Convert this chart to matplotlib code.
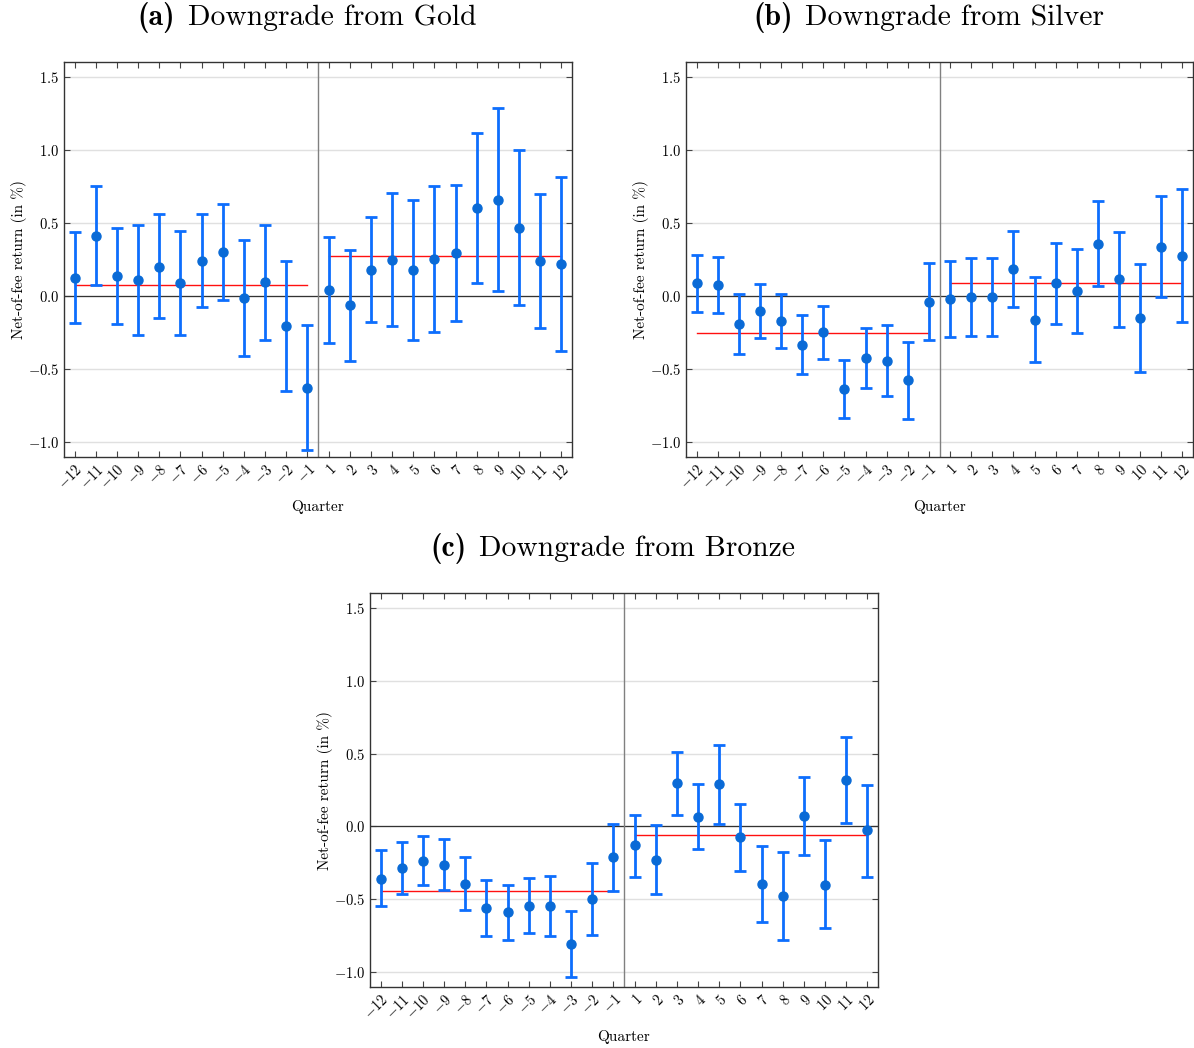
import matplotlib
matplotlib.use('Agg')
import matplotlib.pyplot as plt
from matplotlib.ticker import FuncFormatter
from matplotlib.offsetbox import TextArea, HPacker, AnchoredOffsetbox

plt.rcParams['font.family'] = 'serif'
plt.rcParams['font.serif'] = ['cmr10', 'DejaVu Serif']
plt.rcParams['mathtext.fontset'] = 'cm'
plt.rcParams['axes.formatter.use_mathtext'] = True

# quarters around the downgrade
quarters = [-12, -11, -10, -9, -8, -7, -6, -5, -4, -3, -2, -1,
            1, 2, 3, 4, 5, 6, 7, 8, 9, 10, 11, 12]

# (a) Downgrade from Gold
gold_mean = [0.125, 0.411, 0.139, 0.109, 0.202, 0.089, 0.241, 0.300, -0.016, 0.093, -0.207, -0.627,
             0.043, -0.061, 0.180, 0.248, 0.175, 0.255, 0.295, 0.600, 0.659, 0.468, 0.241, 0.220]
gold_low = [-0.184, 0.075, -0.189, -0.266, -0.148, -0.268, -0.077, -0.030, -0.407, -0.302, -0.650, -1.050,
            -0.318, -0.441, -0.180, -0.207, -0.300, -0.245, -0.170, 0.089, 0.036, -0.059, -0.216, -0.375]
gold_high = [0.436, 0.752, 0.468, 0.486, 0.559, 0.445, 0.559, 0.630, 0.380, 0.489, 0.239, -0.200,
             0.405, 0.318, 0.543, 0.707, 0.655, 0.755, 0.761, 1.116, 1.286, 0.998, 0.700, 0.814]
gold_pre, gold_post = 0.073, 0.277

# (b) Downgrade from Silver
silver_mean = [0.089, 0.075, -0.189, -0.100, -0.173, -0.332, -0.248, -0.634, -0.423, -0.443, -0.577, -0.041,
               -0.020, -0.007, -0.007, 0.182, -0.164, 0.086, 0.036, 0.357, 0.114, -0.150, 0.336, 0.275]
silver_low = [-0.107, -0.118, -0.393, -0.284, -0.357, -0.534, -0.430, -0.832, -0.627, -0.686, -0.839, -0.302,
              -0.280, -0.270, -0.270, -0.077, -0.452, -0.189, -0.252, 0.068, -0.211, -0.516, -0.007, -0.177]
silver_high = [0.284, 0.268, 0.016, 0.082, 0.011, -0.130, -0.066, -0.434, -0.216, -0.200, -0.314, 0.225,
               0.241, 0.259, 0.259, 0.443, 0.127, 0.366, 0.320, 0.648, 0.436, 0.216, 0.682, 0.730]
silver_pre, silver_post = -0.250, 0.086

# (c) Downgrade from Bronze
bronze_mean = [-0.357, -0.284, -0.234, -0.261, -0.393, -0.557, -0.589, -0.543, -0.545, -0.807, -0.495, -0.211,
               -0.130, -0.227, 0.295, 0.068, 0.289, -0.073, -0.393, -0.477, 0.073, -0.398, 0.318, -0.027]
bronze_low = [-0.548, -0.466, -0.398, -0.432, -0.573, -0.750, -0.780, -0.732, -0.752, -1.030, -0.743, -0.445,
              -0.343, -0.464, 0.077, -0.152, 0.020, -0.302, -0.652, -0.780, -0.195, -0.698, 0.025, -0.343]
bronze_high = [-0.164, -0.105, -0.066, -0.086, -0.211, -0.366, -0.398, -0.352, -0.339, -0.582, -0.248, 0.020,
               0.082, 0.009, 0.509, 0.289, 0.557, 0.155, -0.134, -0.175, 0.339, -0.095, 0.614, 0.284]
bronze_pre, bronze_post = -0.441, -0.059

panels = [
    ('(a)', 'Downgrade from Gold', gold_mean, gold_low, gold_high, gold_pre, gold_post),
    ('(b)', 'Downgrade from Silver', silver_mean, silver_low, silver_high, silver_pre, silver_post),
    ('(c)', 'Downgrade from Bronze', bronze_mean, bronze_low, bronze_high, bronze_pre, bronze_post),
]

W, H = 1194, 1048
fig = plt.figure(figsize=(W / 100, H / 100), dpi=100)

# axes boxes in pixels: left, top, right, bottom
boxes = [(64, 62, 572, 457), (686, 62, 1193, 457), (370, 593, 878, 987)]

for (tag, name, mean, low, high, pre, post), (l, t, r, b) in zip(panels, boxes):
    ax = fig.add_axes([l / W, 1 - b / H, (r - l) / W, (b - t) / H])
    x = list(range(len(quarters)))
    n_pre = sum(1 for q in quarters if q < 0)

    yerr = [[m - lo for m, lo in zip(mean, low)], [hi - m for m, hi in zip(mean, high)]]

    ax.axhline(0, color='#333333', lw=0.9, zorder=2)
    ax.axvline(n_pre - 0.5, color='#808080', lw=1.0, zorder=2)
    ax.plot([x[0], x[n_pre - 1]], [pre, pre], color='#ff1010', lw=1.0, zorder=3)
    ax.plot([x[n_pre], x[-1]], [post, post], color='#ff1010', lw=1.0, zorder=3)

    ax.errorbar(x, mean, yerr=yerr, fmt='o', color='#0a6ad6', ecolor='#0d6efd',
                elinewidth=2.0, capsize=4, capthick=2.0, markersize=6.5, zorder=4)

    ax.set_xlim(-0.5, len(quarters) - 0.5)
    ax.set_ylim(-1.1, 1.6)
    ax.set_yticks([-1.0, -0.5, 0.0, 0.5, 1.0, 1.5])
    ax.yaxis.set_major_formatter(FuncFormatter(lambda v, p: '$%.1f$' % v))
    ax.set_xticks(x)
    ax.set_xticklabels(['$%d$' % q for q in quarters], rotation=45, ha='right',
                       rotation_mode='anchor', fontsize=10.5)
    ax.tick_params(axis='y', labelsize=10.5)
    ax.tick_params(direction='in', top=True, right=True, length=4, width=0.8, color='#444444')
    ax.grid(axis='y', color='#e0e0e0', lw=1.0, zorder=0)
    ax.set_axisbelow(True)
    for s in ax.spines.values():
        s.set_color('#333333')
        s.set_linewidth(1.0)

    ax.set_xlabel('Quarter', fontsize=11, labelpad=6)
    ax.set_ylabel('Net-of-fee return (in %)', fontsize=11, labelpad=0.5)

    # title: bold tag followed by regular text
    tag_box = TextArea(tag, textprops=dict(family='cmb10', size=21.3))
    name_box = TextArea(name, textprops=dict(size=21.3))
    pack = HPacker(children=[tag_box, name_box], align='baseline', pad=0, sep=9)
    cx = ((l + r) / 2 - 11) / W
    ty = 1 - (t - 29) / H
    title = AnchoredOffsetbox(loc='lower center', child=pack, pad=0, borderpad=0,
                              frameon=False, bbox_to_anchor=(cx, ty),
                              bbox_transform=fig.transFigure)
    fig.add_artist(title)

fig.savefig('out.png', dpi=100)
